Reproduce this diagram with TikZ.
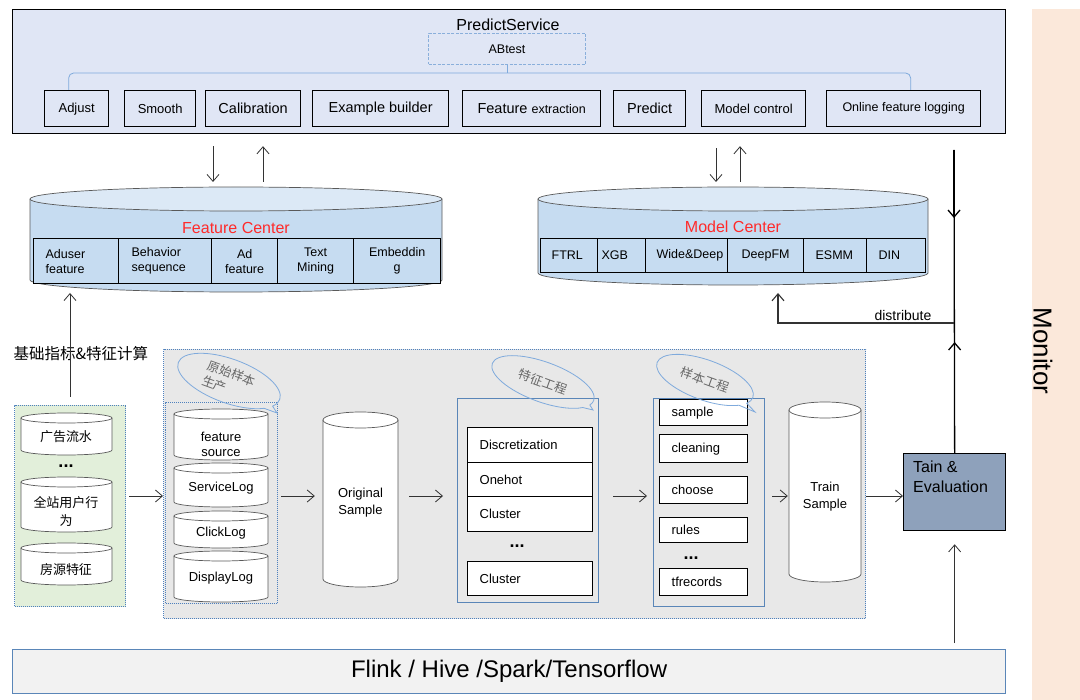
\documentclass[tikz,border=0pt]{standalone}
\usepackage{fontspec}
\setmainfont{Liberation Sans}
\newfontfamily\cjk{Noto Sans CJK SC}
\usetikzlibrary{arrows.meta,shapes.callouts}

\definecolor{topfill}{HTML}{E0E6F5}
\definecolor{abblue}{HTML}{8AAFDB}
\definecolor{drumbody}{HTML}{C6DCF1}
\definecolor{drumtop}{HTML}{DCE9F6}
\definecolor{leafgreen}{HTML}{E2EFDA}
\definecolor{areagray}{HTML}{E8E8E8}
\definecolor{dotblue}{HTML}{4F81BD}
\definecolor{groupblue}{HTML}{5A86B8}
\definecolor{tainfill}{HTML}{8EA1BB}
\definecolor{basefill}{HTML}{F2F2F2}
\definecolor{monfill}{HTML}{FBE8DA}
\definecolor{callblue}{HTML}{7FAADC}
\definecolor{centerred}{HTML}{FF2A2A}

% #1 body, #2 top, #3 x1, #4 x2, #5 y top, #6 y bottom, #7 ry
\newcommand{\drum}[7]{%
  \fill[#1] (#3,#5) -- (#3,#6) arc[start angle=180, end angle=0, x radius={(#4-#3)/2}, y radius=#7] -- (#4,#5) -- cycle;
  \draw[drumline] (#3,#5) -- (#3,#6) arc[start angle=180, end angle=0, x radius={(#4-#3)/2}, y radius=#7] -- (#4,#5);
  \filldraw[fill=#2, drumline] ({(#3+#4)/2},#5) ellipse [x radius={(#4-#3)/2}, y radius=#7];
}

\tikzset{
  fs/.style 2 args={font=\fontsize{#1}{#2}\selectfont},
  wh/.style 2 args={minimum width=#1pt, minimum height=#2pt},
  box/.style={draw=black, line width=1.3pt, inner sep=0pt, anchor=north west},
  pscell/.style={box, fill=topfill, minimum height=36pt},
  fccell/.style={box, fill=drumbody, minimum height=45pt, align=center, fs={12.5}{15}},
  mccell/.style 2 args={box, fill=drumbody, minimum height=34pt, text width=#1pt, inner xsep=#2pt, align=left, fs={12.5}{15}},
  fecell/.style={box, fill=white, text width=101pt, inner xsep=12pt, minimum height=#1pt, align=left, fs={13}{15}},
  secell/.style={box, fill=white, text width=64pt, inner xsep=12pt, minimum height=#1pt, align=left, fs={13}{15}},
  dotarea/.style={draw=dotblue, line width=1pt, dash pattern=on 1pt off 1pt, anchor=north west, inner sep=0pt},
  stage/.style={draw=groupblue, line width=1.3pt, anchor=north west, inner sep=0pt},
  tag/.style={ellipse callout, draw=callblue, line width=0.8pt, rotate=-20, inner sep=0pt, text=black!60, font=\cjk\fontsize{12.5}{16}\selectfont, align=left},
  bracket/.style={draw=callblue, line width=0.8pt},
  drumline/.style={draw=black!65, line width=0.7pt},
  link/.style={draw=black!80, line width=0.8pt},
  mainline/.style={draw=black, line width=1.3pt},
}

\begin{document}
\begin{tikzpicture}[x=1pt, y=-1pt, >={Straight Barb[length=7pt,width=12pt]}]
  \useasboundingbox (0,0) rectangle (1080,700);
  \fill[white] (0,0) rectangle (1080,700);

  % Monitor
  \fill[monfill] (1032,9) rectangle (1080,700);
  \node[fs={26}{30}, rotate=-90] (mon) at (1043,351) {Monitor};

  % PredictService
  \node[box, fill=topfill, wh={993}{124}, line width=1.2pt] (ps) at (12,9) {};
  \node[fs={16}{19}] (pstitle) at (508,25) {PredictService};
  \node[draw=abblue, line width=1.4pt, dash pattern=on 3pt off 1.5pt, wh={157}{31}, inner sep=0pt, fs={12.5}{15}] (ab) at (507,49) {ABtest};
  \node[pscell, wh={64}{36}, fs={13}{15}] (adj) at (44,90) {Adjust};
  \node[pscell, wh={71}{36}, fs={13}{15}] (smo) at (124,90) {Smooth};
  \node[pscell, wh={95}{36}, fs={14.5}{17}] (cal) at (205,90) {Calibration};
  \node[pscell, wh={136}{36}, fs={14.5}{17}] (exb) at (312,90) {Example builder};
  \node[pscell, wh={138}{36}, fs={14.5}{17}] (fex) at (462,90) {Feature {\fontsize{12.5}{15}\selectfont extraction}};
  \node[pscell, wh={72}{36}, fs={14.5}{17}] (pre) at (613,90) {Predict};
  \node[pscell, wh={104}{36}, fs={13}{15}] (mco) at (701,90) {Model control};
  \node[pscell, wh={154}{36}, fs={12.5}{15}] (ofl) at (826,90) {Online feature logging};
  \coordinate (brace) at (507,73);
  \draw[bracket, rounded corners=5pt] ([xshift=-8pt]adj.north) |- (brace) -| ([xshift=7pt]ofl.north);
  \draw[bracket] (ab.south) -- (brace);

  % Feature Center
  \drum{drumbody}{drumtop}{30}{442}{199}{280}{12}
  \node[fs={16}{19}, text=centerred] (fctitle) at (236,228) {Feature Center};
  \node[fccell, text width=61pt, inner xsep=12pt, align=left] (adu) at (33,238) {Aduser\\feature};
  \node[fccell, text width=67pt, inner xsep=13pt, align=left] (beh) at (118,238) {Behavior\\sequence};
  \node[fccell, wh={66}{45}] (adf) at (211,238) {Ad\\feature};
  \node[fccell, wh={76}{45}] (txm) at (277,238) {Text\\Mining};
  \node[fccell, wh={87}{45}] (emb) at (353,238) {Embeddin\\g};

  % Model Center
  \drum{drumbody}{drumtop}{538}{928}{199}{273}{12}
  \node[fs={16}{19}, text=centerred] (mctitle) at (733,227) {Model Center};
  \node[mccell={35}{11}] (ftrl) at (540,238) {FTRL};
  \node[mccell={40}{4}] (xgb) at (597,238) {XGB};
  \node[mccell={60}{11}] (wdp) at (645,238) {Wide\&Deep};
  \node[mccell={48}{14}] (dfm) at (727,238) {DeepFM};
  \node[mccell={39}{12}] (esmm) at (803,238) {ESMM};
  \node[mccell={35}{12}] (din) at (866,238) {DIN};

  % service <-> centers
  \coordinate (fcin) at (213,182);
  \coordinate (fcout) at (263,182);
  \coordinate (mcin) at (716,182);
  \coordinate (mcout) at (740,182);
  \coordinate (fcbot) at (236,293);
  \draw[link,->,shorten <=12pt] (ps.south -| fcin) -- (fcin);
  \draw[link,<-,shorten <=12pt] (ps.south -| fcout) -- (fcout);
  \draw[link,->,shorten <=14pt] (ps.south -| mcin) -- (mcin);
  \draw[link,<-,shorten <=12pt] (ps.south -| mcout) -- (mcout);

  % data sources
  \node[anchor=west, font=\cjk\fontsize{15.5}{18}\selectfont] (calc) at (10,354) {基础指标\&特征计算};
  \node[dotarea, fill=leafgreen, wh={111}{201}] (grn) at (14,405) {};
  \drum{white}{white}{21}{112}{418}{450}{5}
  \node[font=\cjk\fontsize{13}{16}\selectfont] (adflow) at (66,437) {广告流水};
  \node[fs={18}{20}] (grndots) at (66,466) {\textbf{...}};
  \drum{white}{white}{21}{112}{482}{527}{5}
  \node[font=\cjk\fontsize{13}{18}\selectfont, align=center] (usrbeh) at (66,511) {全站用户行\\为};
  \drum{white}{white}{21}{112}{548}{580}{5}
  \node[font=\cjk\fontsize{13}{16}\selectfont] (house) at (66,570) {房源特征};
  \draw[link,->,shorten <=8pt] (grn.north) -- (grn.north |- fcbot);

  % offline pipeline
  \node[dotarea, fill=areagray, wh={702}{269}] (gry) at (163,349) {};
  \node[dotarea, wh={112}{201}] (raw) at (165,402) {};
  \drum{white}{white}{174}{268}{414}{455}{5}
  \node[fs={13}{15}, align=center] (fsrc) at (221,444) {feature\\source};
  \drum{white}{white}{174}{268}{468}{502}{5}
  \node[fs={13}{15}] (slog) at (221,488) {ServiceLog};
  \drum{white}{white}{174}{268}{516}{543}{5}
  \node[fs={13}{15}] (clog) at (221,533) {ClickLog};
  \drum{white}{white}{174}{268}{556}{597}{5}
  \node[fs={13}{15}] (dlog) at (221,578) {DisplayLog};

  \drum{white}{white}{323}{398}{420}{579}{8}
  \node[wh={75}{160}, fs={13}{17}, align=center] (orig) at (360.5,503) {Original\\Sample};

  \node[stage, wh={141}{204}] (fe) at (457,398) {};
  \node[fecell=35] (disc) at (467,427) {Discretization};
  \node[fecell=34] (oneh) at (467,462) {Onehot};
  \node[fecell=35] (clus) at (467,496) {Cluster};
  \node[fs={18}{20}] (fedots) at (517,546) {\textbf{...}};
  \node[fecell=34] (clus2) at (467,561) {Cluster};

  \node[stage, wh={111}{208}] (se) at (653,398) {};
  \node[secell=26] (smp) at (659,399) {sample};
  \node[secell=28] (cln) at (659,434) {cleaning};
  \node[secell=27] (chs) at (659,476) {choose};
  \node[secell=25] (rul) at (659,517) {rules};
  \node[fs={18}{20}] (sedots) at (691,558) {\textbf{...}};
  \node[secell=27] (tfr) at (659,568) {tfrecords};

  \drum{white}{white}{789}{861}{410}{574}{8}
  \node[wh={72}{160}, fs={13}{17}, align=center] (ts) at (825,497) {Train\\Sample};

  \node[tag, minimum width=108pt, minimum height=44pt, callout absolute pointer={(277,413)}] (rawtag) at (229,381) {原始样本\\生产};
  \node[tag, minimum width=108pt, minimum height=40pt, callout absolute pointer={(593,410)}] (fetag) at (543,382) {特征工程};
  \node[tag, minimum width=102pt, minimum height=40pt, callout absolute pointer={(755,412)}] (setag) at (705,380) {样本工程};

  % training
  \node[box, fill=tainfill, wh={102}{77}] (tain) at (903,453) {};
  \node[anchor=north west, fs={16}{20}, align=left, inner sep=0pt] (taintxt) at (913,461) {Tain \&\\Evaluation};

  \coordinate (flow) at (0,496);
  \draw[link,->,shorten <=3pt] (grn.east |- flow) -- (gry.west |- flow);
  \draw[link,->,shorten <=3pt,shorten >=8pt] (raw.east |- flow) -- (orig.west |- flow);
  \draw[link,->,shorten <=11pt,shorten >=14pt] (orig.east |- flow) -- (fe.west |- flow);
  \draw[link,->,shorten <=14pt,shorten >=6pt] (fe.east |- flow) -- (se.west |- flow);
  \draw[link,->,shorten <=7pt,shorten >=1pt] (se.east |- flow) -- (ts.west |- flow);
  \draw[link,->,shorten <=5pt] (ts.east |- flow) -- (tain.west |- flow);

  % Flink
  \node[box, draw=groupblue, fill=basefill, wh={993}{44}, line width=1.2pt, fs={24}{28}] (fl) at (12,649) {Flink / Hive /Spark/Tensorflow};
  \draw[link,->,shorten <=6pt,shorten >=13pt] (fl.north -| tain.south) -- (tain.south);

  % monitor feed and distribute
  \coordinate (mtop) at (954,150);
  \coordinate (mjoin) at (954,323);
  \coordinate (mcup) at (778,293);
  \draw[mainline] (mtop) -- (tain.north);
  \draw[mainline,->] (mtop) -- ++(0,68);
  \draw[mainline,->] (tain.north) -- ++(0,-111);
  \draw[link,line width=1.1pt,->] (mjoin) -| (mcup);
  \node[fs={14}{17}] (distlbl) at (903,315) {distribute};
\end{tikzpicture}
\end{document}
